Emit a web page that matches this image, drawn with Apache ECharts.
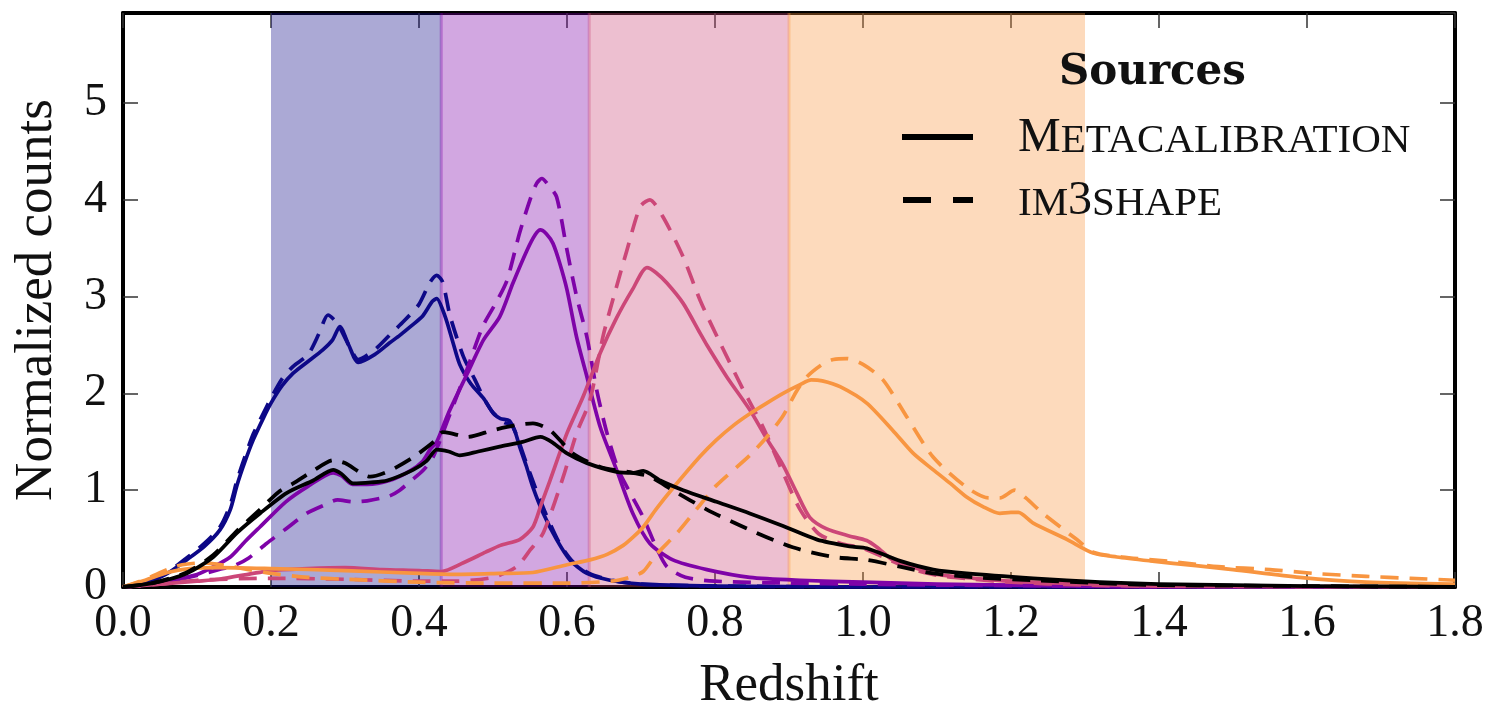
<!DOCTYPE html>
<html>
<head>
<meta charset="utf-8">
<title>Source redshift distributions</title>
<script src="https://cdn.jsdelivr.net/npm/echarts@6/dist/echarts.min.js"></script>
<style>
  html, body { margin: 0; padding: 0; background: #ffffff; }
  #chart { width: 1487px; height: 707px; }
</style>
</head>
<body>
<div id="chart"></div>
<script>
// Tomographic bin edges (redshift) and their plasma colours
const binEdges = [0.20, 0.43, 0.63, 0.90, 1.30];
const binColors = ['#0d0887', '#7e03a8', '#cc4778', '#f89540'];

// Axis ticks
const xTicks = [0.0, 0.2, 0.4, 0.6, 0.8, 1.0, 1.2, 1.4, 1.6, 1.8];
const yTicks = [0, 1, 2, 3, 4, 5];

// n(z) for each bin: [redshift, normalized counts]
const bin1Metacal = [[0,0],[0.02,0.02],[0.04,0.07],[0.06,0.14],[0.086,0.28],[0.11,0.42],[0.131,0.59],[0.145,0.8],[0.154,1.05],[0.165,1.3],[0.176,1.52],[0.19,1.75],[0.2,1.9],[0.215,2.08],[0.23,2.21],[0.25,2.33],[0.27,2.45],[0.283,2.55],[0.293,2.69],[0.305,2.5],[0.318,2.32],[0.34,2.4],[0.36,2.52],[0.374,2.6],[0.39,2.7],[0.405,2.8],[0.418,2.95],[0.424,2.98],[0.435,2.8],[0.445,2.55],[0.455,2.3],[0.47,2.1],[0.487,1.95],[0.5,1.8],[0.51,1.74],[0.522,1.72],[0.53,1.6],[0.536,1.45],[0.545,1.25],[0.554,1.03],[0.568,0.76],[0.586,0.49],[0.604,0.28],[0.627,0.14],[0.658,0.07],[0.7,0.03],[0.8,0.01],[0.9,0.005],[1.0,0],[1.8,0]];
const bin1Im3shape = [[0,0],[0.02,0.02],[0.04,0.07],[0.06,0.15],[0.086,0.3],[0.11,0.45],[0.131,0.62],[0.145,0.85],[0.154,1.1],[0.165,1.35],[0.176,1.58],[0.19,1.8],[0.2,1.95],[0.215,2.15],[0.23,2.28],[0.25,2.4],[0.265,2.62],[0.277,2.81],[0.29,2.72],[0.305,2.5],[0.318,2.35],[0.34,2.45],[0.36,2.6],[0.38,2.75],[0.4,2.92],[0.415,3.15],[0.424,3.22],[0.432,3.15],[0.442,2.8],[0.46,2.38],[0.475,2.15],[0.487,1.96],[0.5,1.8],[0.515,1.7],[0.525,1.68],[0.535,1.5],[0.545,1.28],[0.556,1.05],[0.57,0.78],[0.59,0.45],[0.608,0.26],[0.63,0.14],[0.66,0.07],[0.7,0.03],[0.8,0.01],[1.0,0],[1.8,0]];

const bin2Metacal = [[0,0],[0.05,0.04],[0.1,0.13],[0.12,0.2],[0.145,0.31],[0.165,0.47],[0.185,0.62],[0.22,0.88],[0.25,1.04],[0.284,1.18],[0.295,1.15],[0.31,1.06],[0.33,1.06],[0.36,1.1],[0.388,1.2],[0.405,1.3],[0.415,1.42],[0.424,1.5],[0.44,1.8],[0.465,2.2],[0.487,2.55],[0.509,2.79],[0.527,3.14],[0.546,3.48],[0.557,3.64],[0.564,3.69],[0.572,3.65],[0.581,3.55],[0.59,3.35],[0.6,3.07],[0.613,2.58],[0.627,2.17],[0.645,1.65],[0.667,1.21],[0.689,0.76],[0.712,0.45],[0.743,0.28],[0.789,0.18],[0.847,0.1],[0.915,0.07],[1.0,0.05],[1.1,0.03],[1.2,0.02],[1.3,0.01],[1.4,0],[1.8,0]];
const bin2Im3shape = [[0,0],[0.05,0.04],[0.1,0.12],[0.13,0.18],[0.15,0.22],[0.17,0.3],[0.194,0.45],[0.22,0.6],[0.248,0.76],[0.27,0.84],[0.29,0.9],[0.311,0.88],[0.33,0.89],[0.36,0.94],[0.374,1.0],[0.388,1.09],[0.405,1.2],[0.419,1.34],[0.44,1.75],[0.465,2.25],[0.486,2.69],[0.505,2.95],[0.519,3.17],[0.536,3.66],[0.55,4.0],[0.559,4.17],[0.566,4.22],[0.575,4.15],[0.586,4.03],[0.6,3.48],[0.613,3.0],[0.627,2.58],[0.64,2.04],[0.654,1.59],[0.67,1.2],[0.687,0.95],[0.703,0.72],[0.72,0.42],[0.735,0.21],[0.76,0.1],[0.8,0.06],[0.9,0.04],[1.0,0.03],[1.1,0.02],[1.3,0.01],[1.4,0],[1.8,0]];

const bin3Metacal = [[0,0],[0.05,0.03],[0.1,0.06],[0.13,0.08],[0.2,0.17],[0.25,0.19],[0.3,0.2],[0.35,0.18],[0.4,0.17],[0.43,0.16],[0.46,0.25],[0.49,0.36],[0.51,0.43],[0.536,0.49],[0.554,0.62],[0.565,0.85],[0.577,1.1],[0.6,1.59],[0.622,1.97],[0.645,2.42],[0.667,2.78],[0.689,3.08],[0.708,3.3],[0.72,3.25],[0.735,3.14],[0.757,2.93],[0.78,2.62],[0.789,2.5],[0.816,2.17],[0.847,1.83],[0.87,1.53],[0.892,1.26],[0.91,0.98],[0.928,0.72],[0.951,0.6],[0.98,0.53],[1.005,0.48],[1.019,0.41],[1.04,0.28],[1.07,0.2],[1.1,0.13],[1.15,0.09],[1.2,0.06],[1.3,0.03],[1.4,0.01],[1.8,0]];
const bin3Im3shape = [[0,0],[0.05,0.03],[0.1,0.07],[0.2,0.09],[0.3,0.08],[0.4,0.06],[0.45,0.06],[0.5,0.1],[0.532,0.21],[0.55,0.38],[0.568,0.56],[0.595,1.14],[0.613,1.59],[0.631,1.93],[0.649,2.6],[0.665,3.05],[0.681,3.48],[0.699,3.93],[0.712,4.0],[0.73,3.82],[0.757,3.41],[0.78,2.96],[0.807,2.52],[0.838,2.04],[0.865,1.65],[0.892,1.18],[0.915,0.8],[0.94,0.55],[0.97,0.45],[1.0,0.4],[1.03,0.3],[1.06,0.2],[1.1,0.12],[1.15,0.08],[1.2,0.05],[1.3,0.02],[1.4,0.01],[1.8,0]];

const bin4Metacal = [[0,0],[0.03,0.07],[0.06,0.15],[0.09,0.19],[0.13,0.2],[0.2,0.19],[0.3,0.17],[0.4,0.14],[0.45,0.13],[0.509,0.14],[0.554,0.15],[0.6,0.23],[0.631,0.28],[0.655,0.34],[0.676,0.43],[0.69,0.52],[0.703,0.62],[0.721,0.81],[0.743,1.02],[0.78,1.35],[0.802,1.52],[0.825,1.67],[0.847,1.79],[0.87,1.9],[0.892,2.0],[0.915,2.09],[0.93,2.14],[0.945,2.13],[0.969,2.07],[1.005,1.9],[1.04,1.62],[1.068,1.38],[1.095,1.21],[1.118,1.07],[1.14,0.93],[1.162,0.83],[1.185,0.76],[1.2,0.77],[1.21,0.77],[1.23,0.66],[1.276,0.49],[1.311,0.35],[1.343,0.31],[1.388,0.27],[1.45,0.22],[1.5,0.18],[1.59,0.1],[1.68,0.05],[1.8,0.03]];
const bin4Im3shape = [[0,0],[0.03,0.08],[0.06,0.18],[0.08,0.23],[0.11,0.25],[0.14,0.22],[0.17,0.18],[0.2,0.14],[0.25,0.1],[0.3,0.08],[0.4,0.05],[0.5,0.04],[0.6,0.04],[0.66,0.06],[0.685,0.1],[0.703,0.16],[0.72,0.33],[0.749,0.56],[0.78,0.85],[0.802,1.05],[0.847,1.36],[0.87,1.55],[0.892,1.77],[0.91,2.02],[0.924,2.17],[0.945,2.3],[0.96,2.35],[0.978,2.36],[1.0,2.3],[1.027,2.14],[1.059,1.76],[1.095,1.34],[1.14,1.03],[1.17,0.92],[1.185,0.92],[1.205,1.0],[1.22,0.92],[1.243,0.76],[1.289,0.49],[1.311,0.36],[1.35,0.31],[1.42,0.26],[1.48,0.21],[1.55,0.18],[1.61,0.14],[1.68,0.11],[1.74,0.09],[1.8,0.07]];

const allMetacal = [[0,0],[0.04,0.04],[0.086,0.14],[0.122,0.31],[0.154,0.56],[0.185,0.76],[0.221,0.97],[0.257,1.1],[0.284,1.21],[0.295,1.17],[0.311,1.07],[0.335,1.08],[0.357,1.1],[0.392,1.21],[0.41,1.3],[0.424,1.42],[0.44,1.4],[0.455,1.36],[0.48,1.4],[0.509,1.45],[0.54,1.5],[0.564,1.55],[0.581,1.49],[0.6,1.38],[0.627,1.28],[0.667,1.19],[0.69,1.18],[0.703,1.2],[0.726,1.1],[0.757,1.0],[0.802,0.88],[0.847,0.76],[0.892,0.63],[0.938,0.49],[0.982,0.42],[1.005,0.4],[1.05,0.27],[1.095,0.18],[1.14,0.14],[1.23,0.09],[1.32,0.05],[1.4,0.03],[1.5,0.02],[1.6,0.01],[1.8,0]];
const allIm3shape = [[0,0],[0.04,0.04],[0.086,0.15],[0.122,0.33],[0.154,0.58],[0.185,0.8],[0.21,0.98],[0.23,1.07],[0.257,1.2],[0.284,1.31],[0.3,1.28],[0.334,1.14],[0.36,1.2],[0.392,1.34],[0.42,1.5],[0.432,1.6],[0.442,1.59],[0.465,1.55],[0.5,1.62],[0.53,1.67],[0.554,1.69],[0.577,1.62],[0.608,1.38],[0.645,1.24],[0.689,1.18],[0.712,1.14],[0.743,1.0],[0.789,0.8],[0.847,0.59],[0.905,0.41],[0.96,0.31],[1.005,0.28],[1.05,0.21],[1.095,0.14],[1.15,0.1],[1.23,0.07],[1.32,0.04],[1.4,0.02],[1.6,0.01],[1.8,0]];

const X_MIN = 0, X_MAX = 1.8, Y_MIN = 0, Y_MAX = 5.93;
const SERIF = "'Liberation Serif', 'DejaVu Serif', serif";
const INK = '#111111';

function rgba(hex, a) {
  const n = parseInt(hex.slice(1), 16);
  return 'rgba(' + (n >> 16 & 255) + ',' + (n >> 8 & 255) + ',' + (n & 255) + ',' + a + ')';
}

// Shaded bin ranges: [start, end, bin index]
const bandData = binColors.map((c, i) => [binEdges[i], binEdges[i + 1], i]);

function curve(name, data, color, dashed, width) {
  return {
    name: name,
    type: 'line',
    data: data,
    showSymbol: false,
    smooth: 0.25,
    z: 3,
    clip: true,
    lineStyle: {
      color: color,
      width: width,
      type: dashed ? [18, 11] : 'solid',
      cap: 'butt',
      join: 'round'
    },
    emphasis: { disabled: true },
    silent: true
  };
}

const frameAxis = {
  type: 'value',
  axisLine: { show: true, onZero: false, lineStyle: { color: '#000', width: 4 } },
  axisTick: { show: true, inside: true, length: 15, lineStyle: { color: '#333', width: 1.5 } },
  splitLine: { show: false }
};

const chart = echarts.init(document.getElementById('chart'), null, { renderer: 'canvas' });

const option = {
  animation: false,
  backgroundColor: '#ffffff',
  grid: { left: 123, right: 32, top: 13, bottom: 120, containLabel: false, outerBoundsMode: 'none' },
  xAxis: [
    Object.assign({}, frameAxis, {
      position: 'bottom', min: X_MIN, max: X_MAX, interval: 0.2,
      name: 'Redshift', nameLocation: 'middle', nameGap: 73,
      nameTextStyle: { fontFamily: SERIF, fontSize: 53, color: INK },
      axisLabel: {
        show: true, margin: 14, fontFamily: SERIF, fontSize: 46, color: INK,
        formatter: v => xTicks.some(t => Math.abs(t - v) < 1e-6) ? v.toFixed(1) : ''
      }
    }),
    Object.assign({}, frameAxis, {
      position: 'top', min: X_MIN, max: X_MAX, interval: 0.2,
      axisLabel: { show: false }
    })
  ],
  yAxis: [
    Object.assign({}, frameAxis, {
      position: 'left', min: Y_MIN, max: Y_MAX, interval: 1,
      name: 'Normalized counts', nameLocation: 'middle', nameGap: 59, nameRotate: 90,
      nameTextStyle: { fontFamily: SERIF, fontSize: 53, color: INK },
      axisLabel: {
        show: true, margin: 16, fontFamily: SERIF, fontSize: 46, color: INK,
        showMaxLabel: false,
        formatter: v => yTicks.indexOf(v) >= 0 ? String(v) : ''
      }
    }),
    Object.assign({}, frameAxis, {
      position: 'right', min: Y_MIN, max: Y_MAX, interval: 1,
      axisLabel: { show: false }
    })
  ],
  series: [
    {
      name: 'bins',
      type: 'custom',
      data: bandData,
      encode: { x: [0, 1] },
      z: 1,
      silent: true,
      clip: true,
      renderItem: function (params, api) {
        const i = api.value(2);
        const p0 = api.coord([api.value(0), Y_MIN]);
        const p1 = api.coord([api.value(1), Y_MAX]);
        const children = [{
          type: 'rect',
          shape: { x: p0[0], y: p1[1], width: p1[0] - p0[0], height: p0[1] - p1[1] },
          style: { fill: rgba(binColors[i], 0.35) }
        }];
        if (i > 0) {
          children.push({
            type: 'line',
            shape: { x1: p0[0], y1: p0[1], x2: p0[0], y2: p1[1] },
            style: { stroke: rgba(binColors[i], 0.35), lineWidth: 3 }
          });
        }
        return { type: 'group', children: children };
      }
    },
    curve('bin1 metacal', bin1Metacal, binColors[0], false, 3.7),
    curve('bin1 im3shape', bin1Im3shape, binColors[0], true, 3.7),
    curve('bin2 metacal', bin2Metacal, binColors[1], false, 3.7),
    curve('bin2 im3shape', bin2Im3shape, binColors[1], true, 3.7),
    curve('bin3 metacal', bin3Metacal, binColors[2], false, 3.7),
    curve('bin3 im3shape', bin3Im3shape, binColors[2], true, 3.7),
    curve('bin4 metacal', bin4Metacal, binColors[3], false, 3.7),
    curve('bin4 im3shape', bin4Im3shape, binColors[3], true, 3.7),
    curve('all metacal', allMetacal, '#000000', false, 3.8),
    curve('all im3shape', allIm3shape, '#000000', true, 3.8)
  ],
  // Legend key: title, line samples and small-caps labels
  graphic: [
    {
      type: 'text', left: 1059, top: 52, z: 10,
      style: { text: 'Sources', fontFamily: "'DejaVu Serif', serif", fontWeight: 'bold', fontSize: 42, fill: INK }
    },
    {
      type: 'line', z: 10,
      shape: { x1: 902, y1: 137, x2: 973, y2: 137 },
      style: { stroke: '#000', lineWidth: 6 }
    },
    {
      type: 'line', z: 10,
      shape: { x1: 903, y1: 200, x2: 973, y2: 200 },
      style: { stroke: '#000', lineWidth: 6, lineDash: [28, 22] }
    },
    {
      type: 'text', left: 1018, top: 114, z: 10,
      style: {
        text: '{b|M}{s|ETACALIBRATION}',
        fill: INK,
        rich: {
          b: { fontFamily: SERIF, fontSize: 48, fill: INK, verticalAlign: 'bottom' },
          s: { fontFamily: SERIF, fontSize: 41, fill: INK, verticalAlign: 'bottom' }
        }
      }
    },
    {
      type: 'text', left: 1018, top: 177, z: 10,
      style: {
        text: '{s|IM}{b|3}{s|SHAPE}',
        fill: INK,
        rich: {
          b: { fontFamily: SERIF, fontSize: 48, fill: INK, verticalAlign: 'bottom' },
          s: { fontFamily: SERIF, fontSize: 41, fill: INK, verticalAlign: 'bottom' }
        }
      }
    }
  ]
};

chart.setOption(option);
</script>
</body>
</html>
